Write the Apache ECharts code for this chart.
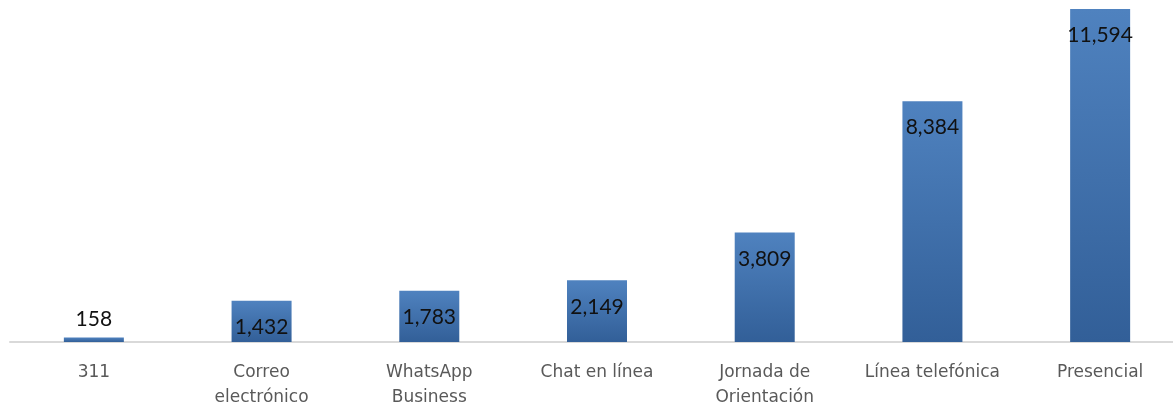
<!DOCTYPE html>
<html lang="es">
<head>
  <meta http-equiv="Content-Type" content="text/html; charset=UTF-8">
  <title>Canales de atención</title>
  <style>html, body { margin: 0; padding: 0; background: #fff; overflow: hidden; }</style>
</head>
<body>
  <div id="chart" style="width: 1173px; height: 406px;"></div>
  <script src="https://cdn.jsdelivr.net/npm/echarts@6/dist/echarts.min.js"></script>
  <script>
    const categories = ['311', 'Correo\nelectrónico', 'WhatsApp\nBusiness', 'Chat en línea', 'Jornada de\nOrientación', 'Línea telefónica', 'Presencial'];
    const values = [158, 1432, 1783, 2149, 3809, 8384, 11594];

    const myChart = echarts.init(document.getElementById('chart'));
    const option = {
      animation: false,
      grid: { left: 10, right: -11, top: 0, bottom: 64, containLabel: false, outerBoundsMode: 'none' },
      xAxis: {
        type: 'category',
        data: categories,
        axisLine: { lineStyle: { color: '#d9d9d9', width: 2 } },
        axisTick: { show: false },
        axisLabel: {
          color: '#595959',
          fontSize: 17,
          fontFamily: 'DejaVu Sans',
          lineHeight: 25,
          margin: 18,
          interval: 0
        }
      },
      yAxis: {
        type: 'value',
        min: 0,
        max: 11907,
        show: false,
        splitLine: { show: false }
      },
      series: [{
        type: 'bar',
        barWidth: 60,
        data: values.map((v, i) => i === 0 ? { value: v, label: { position: 'top', distance: 8 } } : v),
        itemStyle: {
          color: new echarts.graphic.LinearGradient(0, 0, 0, 1, [
            { offset: 0, color: '#4f82bf' },
            { offset: 1, color: '#325f98' }
          ])
        },
        label: {
          show: true,
          position: 'insideTop',
          distance: 16,
          color: '#111',
          fontSize: 21,
          fontFamily: 'Lato',
          formatter: (p) => p.value.toLocaleString('en-US')
        }
      }]
    };
    myChart.setOption(option);
  </script>
</body>
</html>
